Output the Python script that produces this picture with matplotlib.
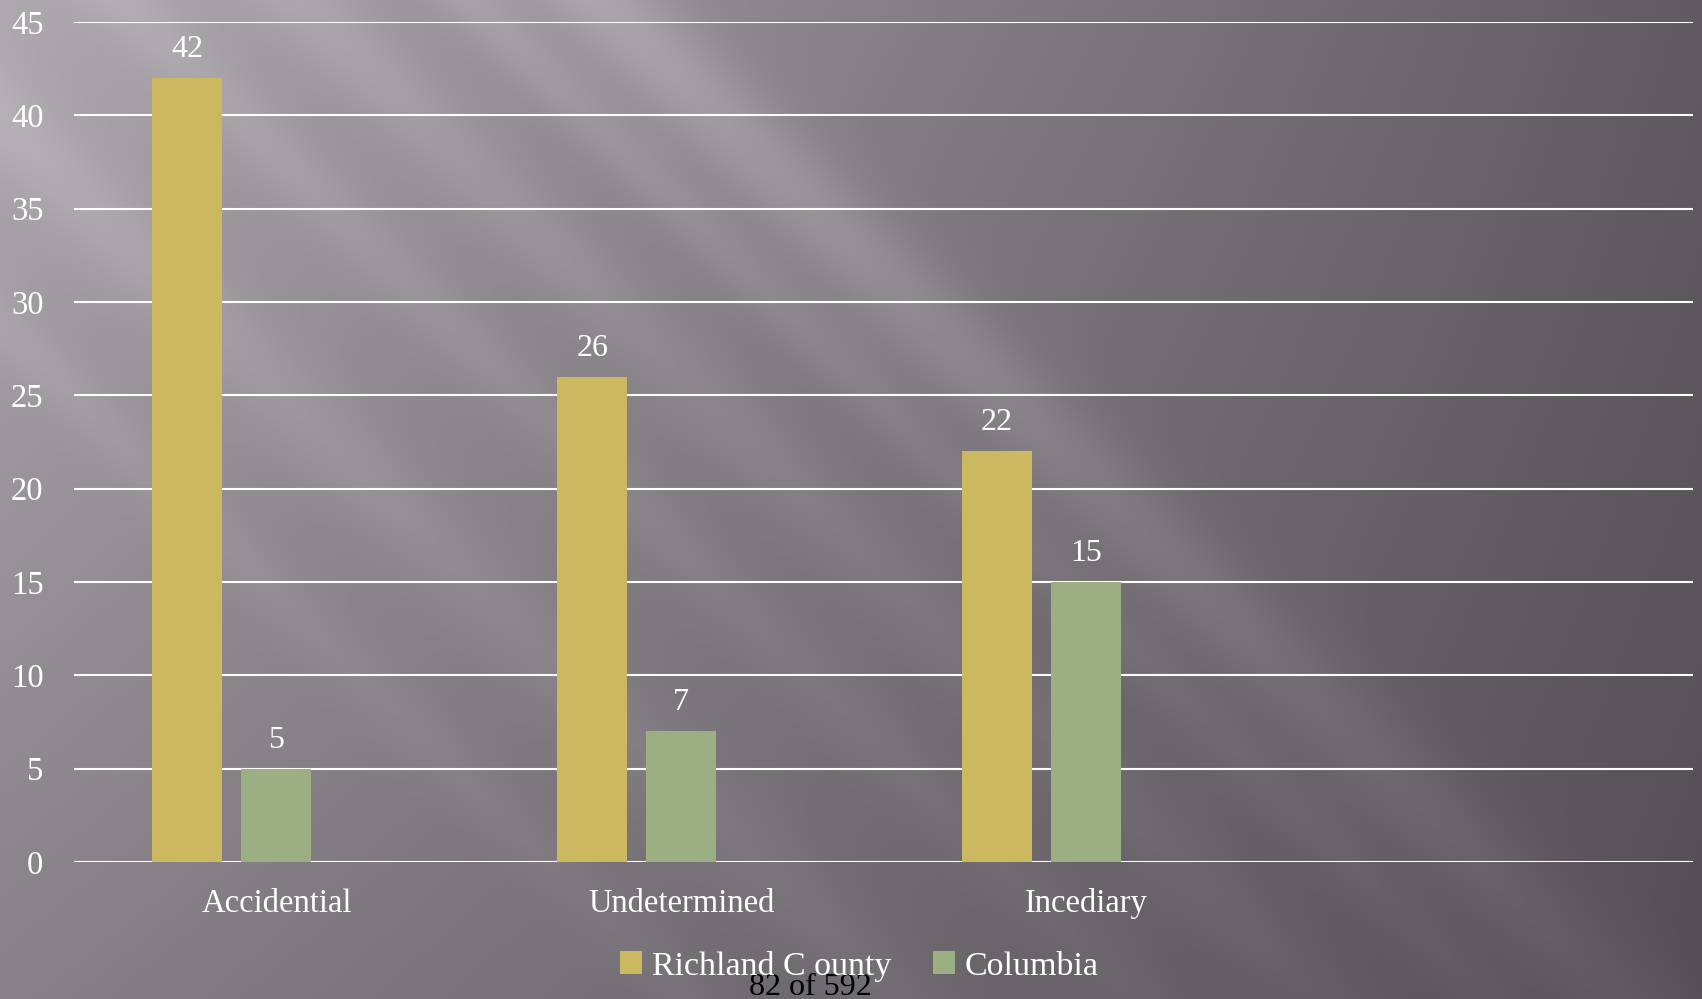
import numpy as np
import matplotlib.pyplot as plt
from matplotlib.patches import Patch

# Fire cause counts by jurisdiction
categories = ["Accidential", "Undetermined", "Incediary", ""]
richland = [42, 26, 22, None]
columbia = [5, 7, 15, None]
series_names = ["Richland C ounty", "Columbia"]
series_colors = ["#CDB862", "#9CAF82"]
yticks = [0, 5, 10, 15, 20, 25, 30, 35, 40, 45]

W, H, DPI = 1702, 999, 100
SERIF = "Liberation Serif"


def make_background(w, h):
    """Gray slide backdrop: dark gradient with soft diagonal light streaks."""
    yy, xx = np.mgrid[0:h, 0:w].astype(float)
    fx, fy = xx / w, yy / h
    base = 172 - 78 * fx - 40 * fy + 28 * fx * fy
    d = xx - 1.02 * yy
    fade = np.clip(1.15 - (xx + yy) / (w + h) * 1.2, 0, 1)
    glow = np.zeros_like(base)
    for centre, width, amp in [(600, 70, 26), (470, 40, 14), (300, 55, 12),
                               (120, 45, 10), (-120, 60, 12), (-330, 40, 8)]:
        glow += amp * np.exp(-((d - centre) / width) ** 2)
    gray = base + glow * (0.35 + 0.65 * fade)
    img = np.stack([gray + 2, gray - 4, gray + 3], axis=-1)
    return np.clip(img, 0, 255).astype(np.uint8)


fig = plt.figure(figsize=(W / DPI, H / DPI), dpi=DPI)
bg = fig.add_axes([0, 0, 1, 1], zorder=0)
bg.imshow(make_background(W, H), aspect="auto", extent=[0, 1, 0, 1])
bg.axis("off")

ax = fig.add_axes([74 / W, 137 / H, 1619 / W, 840 / H], zorder=1)
ax.patch.set_alpha(0)

x = np.arange(len(categories))
bar_w = 70 / 404.75
step = 89 / 404.75
for i, (vals, col) in enumerate(zip([richland, columbia], series_colors)):
    # three bar slots per category; only the first two are filled
    offs = (i - 1) * step
    for xi, v in zip(x, vals):
        if v is None:
            continue
        ax.bar(xi + offs, v, width=bar_w, color=col, zorder=3)
        ax.annotate(str(v), (xi + offs, v), xytext=(0, 15),
                    textcoords="offset points", ha="center", va="baseline",
                    color="white", fontsize=23, family=SERIF)

ax.set_xlim(-0.5, len(categories) - 0.5)
ax.set_ylim(0, 45)
ax.set_yticks(yticks)
ax.set_xticks(x)
ax.set_xticklabels(categories)
for sp in ax.spines.values():
    sp.set_visible(False)
ax.grid(axis="y", color="white", linewidth=1.5, zorder=1)
ax.set_axisbelow(True)
ax.tick_params(axis="both", length=0, colors="white", labelsize=23.5)
ax.tick_params(axis="y", pad=22)
ax.tick_params(axis="x", pad=19)
for lbl in ax.get_xticklabels() + ax.get_yticklabels():
    lbl.set_family(SERIF)

handles = [Patch(facecolor=c, edgecolor="none") for c in series_colors]
leg = fig.legend(handles, series_names, loc="center", ncol=2,
                 bbox_to_anchor=(0.505, 0.033), frameon=False,
                 prop={"family": SERIF, "size": 24.5}, handlelength=0.65,
                 handleheight=0.65, handletextpad=0.3, columnspacing=1.2)
for t in leg.get_texts():
    t.set_color("white")

fig.text(810 / W, 0.012, "82 of 592", ha="center", va="center",
         color="black", fontsize=23, family=SERIF)

fig.savefig("out.png", dpi=DPI)
